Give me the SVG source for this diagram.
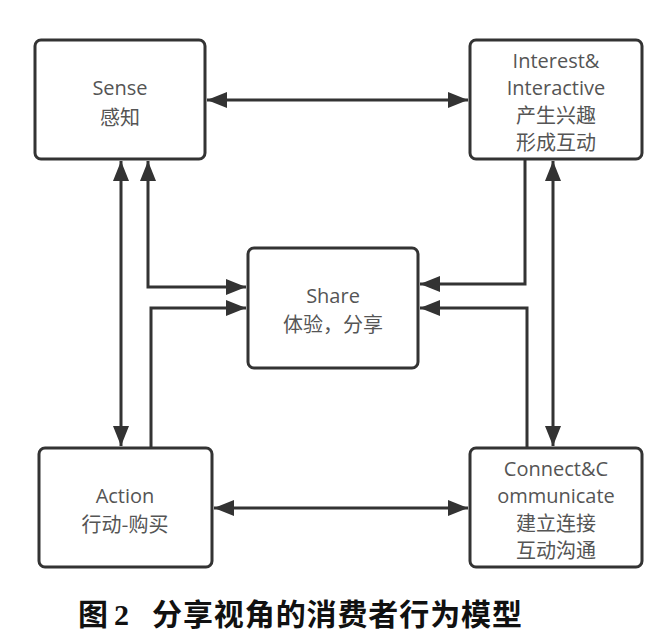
<svg xmlns="http://www.w3.org/2000/svg" width="658" height="639" viewBox="0 0 658 639">
<defs>
<marker id="ah" viewBox="0 0 20 16" refX="20" refY="8" markerWidth="20" markerHeight="16" markerUnits="userSpaceOnUse" orient="auto-start-reverse">
<path d="M0 0 L20 8 L0 16 Z" fill="#333"/>
</marker>
</defs>
<style>
.box{fill:#fff;stroke:#333;stroke-width:3}
.lbl{font-family:"Open Sans","Noto Sans CJK SC",sans-serif;font-size:20px;fill:#555;text-anchor:middle}
.cn{font-family:"Noto Sans CJK SC",sans-serif;font-size:20px;fill:#555;text-anchor:middle}
.ln{fill:none;stroke:#333;stroke-width:3}
.cap{font-size:30px;font-weight:bold;fill:#111}
</style>
<rect width="658" height="639" fill="#fff"/>
<g id="connectors">
<path class="ln" d="M207 100 H468" marker-start="url(#ah)" marker-end="url(#ah)"/>
<path class="ln" d="M214 508 H468" marker-start="url(#ah)" marker-end="url(#ah)"/>
<path class="ln" d="M121 161 V446" marker-start="url(#ah)" marker-end="url(#ah)"/>
<path class="ln" d="M148 161 V287 H246" marker-start="url(#ah)" marker-end="url(#ah)"/>
<path class="ln" d="M151 448 V308 H246" marker-end="url(#ah)"/>
<path class="ln" d="M553 161 V446" marker-start="url(#ah)" marker-end="url(#ah)"/>
<path class="ln" d="M525 159 V284 H420" marker-end="url(#ah)"/>
<path class="ln" d="M527 448 V308 H420" marker-end="url(#ah)"/>
</g>
<g id="sense">
<rect class="box" x="35" y="40" width="170" height="119" rx="6"/>
<text class="lbl" x="120" y="95">Sense</text>
<text class="cn" x="120" y="125">感知</text>
</g>
<g id="interest">
<rect class="box" x="470" y="40" width="172" height="119" rx="6"/>
<text class="lbl" x="556" y="68">Interest&amp;</text>
<text class="lbl" x="556" y="95">Interactive</text>
<text class="cn" x="556" y="123">产生兴趣</text>
<text class="cn" x="556" y="150">形成互动</text>
</g>
<g id="share">
<rect class="box" x="248" y="248" width="170" height="120" rx="6"/>
<text class="lbl" x="333" y="303">Share</text>
<text class="cn" x="333" y="332">体验，分享</text>
</g>
<g id="action">
<rect class="box" x="39" y="448" width="173" height="119" rx="6"/>
<text class="lbl" x="125" y="503">Action</text>
<text class="cn" x="125" y="532">行动-购买</text>
</g>
<g id="connect">
<rect class="box" x="470" y="448" width="172" height="119" rx="6"/>
<text class="lbl" x="556" y="476">Connect&amp;C</text>
<text class="lbl" x="556" y="503">ommunicate</text>
<text class="cn" x="556" y="531">建立连接</text>
<text class="cn" x="556" y="558">互动沟通</text>
</g>
<text class="cap" x="78" y="625" style="font-family:'Noto Sans CJK SC',sans-serif">图</text>
<text class="cap" x="114" y="625" style="font-family:'Liberation Serif',serif">2</text>
<text class="cap" x="152" y="625" textLength="370" style="font-family:'Noto Sans CJK SC',sans-serif">分享视角的消费者行为模型</text>
</svg>
